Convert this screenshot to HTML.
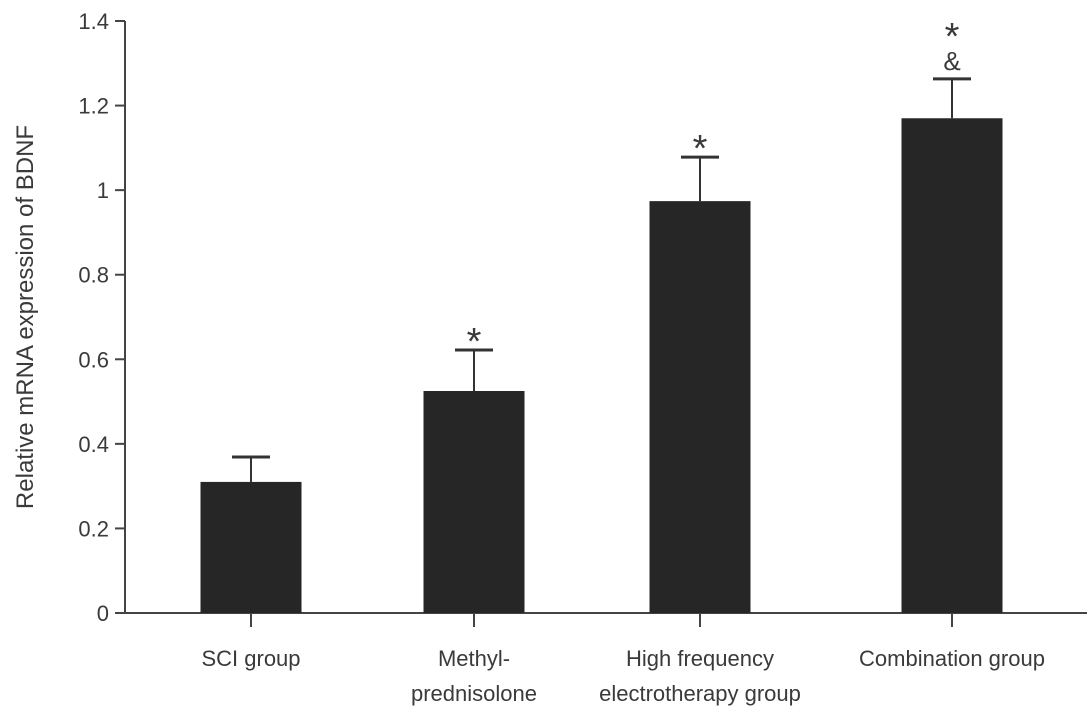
<!DOCTYPE html>
<html><head><meta charset="utf-8"><style>
body{margin:0;background:#fff}
text{font-family:"Liberation Sans",sans-serif;fill:#3a3a3a}
</style></head><body>
<svg id="chart" width="1087" height="717"></svg>
<script>
const categories=[["SCI group"],["Methyl-","prednisolone"],["High frequency","electrotherapy group"],["Combination group"]];
const values=[0.31,0.525,0.974,1.17];
const errors=[0.059,0.097,0.104,0.093];
const marks=[[],["*"],["*"],["*","&"]];
const yTicks=[0,0.2,0.4,0.6,0.8,1,1.2,1.4];
const tickLabels=["0","0.2","0.4","0.6","0.8","1","1.2","1.4"];
const NS="http://www.w3.org/2000/svg";
const svg=document.getElementById('chart');
const x0=125,yBase=613,yTop=21,yMax=1.4;
const y=v=>yBase-(v/yMax)*(yBase-yTop);
const bandCenters=[251,474,700,952];
const xc=i=>bandCenters[i];
const bw=101;
function el(tag,a,txt){const e=document.createElementNS(NS,tag);for(const k in a)e.setAttribute(k,a[k]);if(txt!=null)e.textContent=txt;svg.appendChild(e);return e;}
let e;
e=el('line',{x1:x0,y1:yTop,x2:x0,y2:yBase,stroke:'#444','stroke-width':2});


e=el('line',{x1:x0,y1:yBase,x2:1087,y2:yBase,stroke:'#444','stroke-width':2});


yTicks.forEach((t,i)=>{
  e=el('line',{x1:x0-10,y1:y(t),x2:x0,y2:y(t),stroke:'#444','stroke-width':2});
  
  
  e=el('text',{x:x0-16,y:y(t)+8,'text-anchor':'end','font-size':22},tickLabels[i]);
  
  
});
e=el('text',{transform:'translate(33,317) rotate(-90)','text-anchor':'middle','font-size':24},'Relative mRNA expression of BDNF');


values.forEach((v,i)=>{
  const c=xc(i);
  e=el('line',{x1:c,y1:y(v),x2:c,y2:y(v+errors[i]),stroke:'#333','stroke-width':2});
  
  
  e=el('line',{x1:c-19,y1:y(v+errors[i]),x2:c+19,y2:y(v+errors[i]),stroke:'#333','stroke-width':3});
  
  
  e=el('rect',{x:c-bw/2,y:y(v),width:bw,height:yBase-y(v),fill:'#262626'});
  
  
  e=el('line',{x1:c,y1:yBase,x2:c,y2:yBase+14,stroke:'#444','stroke-width':2});
  
  
  categories[i].forEach((s,j)=>{
    e=el('text',{x:c,y:yBase+53+j*35,'text-anchor':'middle','font-size':22},s);
    
    
  });
  const m=marks[i];
  const top=y(v+errors[i]);
  m.forEach((s,j)=>{
    const off=(m.length-1-j);
    const yy=s==='*'?top+4-off*34:top-9;
    e=el('text',{x:c,y:yy,'text-anchor':'middle','font-size':s==='*'?38:26},s);
    
    
  });
});
</script>
</body></html>
